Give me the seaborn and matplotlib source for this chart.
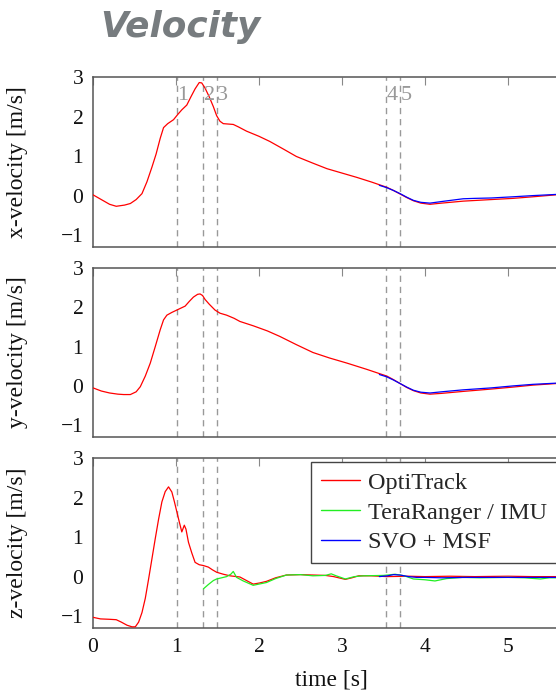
import matplotlib
matplotlib.use("Agg")
import matplotlib.pyplot as plt
import seaborn as sns
import pandas as pd

# ---------------- data ----------------
event_times = [1.01, 1.33, 1.49, 3.53, 3.70]
event_labels = ["1", "2", "3", "4", "5"]

# x-velocity
x_opti_t = [0, 0.1, 0.2, 0.28, 0.38, 0.45, 0.52, 0.59, 0.65, 0.71, 0.76, 0.81, 0.85, 0.90,
            0.97, 1.02, 1.07, 1.13, 1.18, 1.23, 1.28, 1.31, 1.35, 1.40, 1.45, 1.49, 1.53,
            1.57, 1.63, 1.69, 1.75, 1.85, 2.0, 2.13, 2.3, 2.45, 2.65, 2.82, 3.0, 3.18, 3.36,
            3.54, 3.62, 3.70, 3.78, 3.86, 3.95, 4.06, 4.2, 4.46, 4.8, 5.06, 5.3, 5.58]
x_opti_v = [0.02, -0.1, -0.22, -0.27, -0.24, -0.2, -0.1, 0.05, 0.35, 0.72, 1.05, 1.45, 1.72,
            1.82, 1.92, 2.05, 2.17, 2.29, 2.5, 2.7, 2.86, 2.85, 2.72, 2.5, 2.25, 2.02, 1.88,
            1.82, 1.81, 1.80, 1.74, 1.63, 1.5, 1.37, 1.17, 0.99, 0.82, 0.68, 0.57, 0.46, 0.34,
            0.21, 0.13, 0.04, -0.05, -0.13, -0.19, -0.22, -0.19, -0.14, -0.1, -0.07, -0.03, 0.02]
x_svo_t = [3.45, 3.54, 3.62, 3.70, 3.78, 3.86, 3.95, 4.06, 4.2, 4.46, 4.6, 4.8, 5.06, 5.3, 5.58]
x_svo_v = [0.26, 0.20, 0.13, 0.05, -0.04, -0.12, -0.17, -0.19, -0.15, -0.08, -0.07, -0.06,
           -0.03, 0.0, 0.03]

# y-velocity
y_opti_t = [0, 0.1, 0.2, 0.3, 0.37, 0.45, 0.52, 0.57, 0.63, 0.69, 0.75, 0.81, 0.85, 0.89,
            0.95, 1.01, 1.06, 1.11, 1.16, 1.21, 1.26, 1.29, 1.32, 1.35, 1.40, 1.47, 1.53,
            1.61, 1.70, 1.77, 1.93, 2.1, 2.25, 2.45, 2.65, 2.85, 3.06, 3.3, 3.54, 3.62, 3.70,
            3.78, 3.86, 3.95, 4.06, 4.2, 4.46, 4.8, 5.06, 5.3, 5.58]
y_opti_v = [-0.05, -0.13, -0.18, -0.21, -0.22, -0.22, -0.15, -0.02, 0.25, 0.58, 1.0, 1.43,
            1.68, 1.8, 1.87, 1.93, 1.98, 2.03, 2.15, 2.26, 2.33, 2.34, 2.3, 2.2, 2.08, 1.93,
            1.85, 1.8, 1.72, 1.64, 1.53, 1.4, 1.26, 1.05, 0.85, 0.71, 0.58, 0.42, 0.25, 0.16,
            0.06, -0.04, -0.12, -0.18, -0.21, -0.19, -0.14, -0.08, -0.03, 0.02, 0.06]
y_svo_t = [3.45, 3.54, 3.62, 3.70, 3.78, 3.86, 3.95, 4.06, 4.2, 4.46, 4.8, 5.06, 5.3, 5.58]
y_svo_v = [0.29, 0.23, 0.15, 0.06, -0.03, -0.11, -0.16, -0.18, -0.15, -0.1, -0.05, 0.0, 0.04, 0.07]

# z-velocity
z_opti_t = [0, 0.09, 0.2, 0.28, 0.34, 0.41, 0.47, 0.51, 0.55, 0.59, 0.63, 0.67, 0.71, 0.75,
            0.79, 0.83, 0.87, 0.91, 0.95, 0.98, 1.01, 1.04, 1.07, 1.10, 1.12, 1.15, 1.19,
            1.23, 1.28, 1.33, 1.39, 1.44, 1.49, 1.57, 1.65, 1.77, 1.85, 1.93, 2.01, 2.09,
            2.2, 2.33, 2.5, 2.65, 2.8, 2.9, 3.04, 3.12, 3.2, 3.35, 3.54, 3.8, 4.0, 4.3, 4.6,
            5.0, 5.3, 5.58]
z_opti_v = [-1.03, -1.07, -1.08, -1.09, -1.15, -1.23, -1.27, -1.27, -1.15, -0.91, -0.55,
            -0.06, 0.45, 0.96, 1.45, 1.89, 2.15, 2.27, 2.14, 1.9, 1.64, 1.38, 1.13, 1.3, 1.2,
            0.87, 0.6, 0.36, 0.3, 0.28, 0.24, 0.17, 0.11, 0.06, 0.02, -0.01, -0.1, -0.19,
            -0.16, -0.12, -0.03, 0.04, 0.05, 0.04, 0.03, 0.0, -0.07, -0.03, 0.02, 0.02, 0.0,
            0.01, 0.0, 0.01, 0.0, 0.01, 0.0, 0.0]
z_tera_t = [1.33, 1.39, 1.45, 1.49, 1.55, 1.61, 1.66, 1.69, 1.73, 1.81, 1.93, 2.09, 2.2,
            2.33, 2.5, 2.65, 2.8, 2.87, 2.93, 3.04, 3.15, 3.26, 3.5, 3.64, 3.75, 3.86, 4.0,
            4.12, 4.26, 4.45, 4.66, 5.0, 5.2, 5.39, 5.5, 5.58]
z_tera_v = [-0.31, -0.2, -0.1, -0.06, -0.03, 0.0, 0.06, 0.13, -0.02, -0.11, -0.22, -0.15,
            -0.05, 0.04, 0.05, 0.02, 0.03, 0.07, 0.02, -0.06, 0.0, 0.02, 0.03, 0.06, 0.02,
            -0.06, -0.08, -0.11, -0.05, -0.02, -0.03, -0.02, -0.03, -0.06, -0.03, -0.03]
z_svo_t = [3.45, 3.55, 3.62, 3.7, 3.8, 3.9, 4.0, 4.2, 4.5, 4.8, 5.1, 5.4, 5.58]
z_svo_v = [0.0, 0.02, 0.05, 0.04, 0.0, -0.02, -0.02, -0.03, -0.02, -0.02, -0.02, -0.02, -0.02]

series_names = ["OptiTrack", "TeraRanger / IMU", "SVO + MSF"]
series_colors = ["#ff0000", "#22ee22", "#0000ff"]
ylabels = ["x-velocity [m/s]", "y-velocity [m/s]", "z-velocity [m/s]"]
yticks = [-1, 0, 1, 2, 3]
xticks = [0, 1, 2, 3, 4, 5]

panels = [
    [(x_opti_t, x_opti_v, 0), (x_svo_t, x_svo_v, 2)],
    [(y_opti_t, y_opti_v, 0), (y_svo_t, y_svo_v, 2)],
    [(z_opti_t, z_opti_v, 0), (z_tera_t, z_tera_v, 1), (z_svo_t, z_svo_v, 2)],
]

# ---------------- style ----------------
sns.set_style("white")
serif = ["Liberation Serif", "DejaVu Serif"]
plt.rcParams["font.family"] = serif
plt.rcParams["axes.unicode_minus"] = True

W, H = 556, 694
fig = plt.figure(figsize=(W / 100, H / 100), dpi=100)

XMAX = 5.75
px_per_unit = 83.0
left_px = 93
width_px = XMAX * px_per_unit
axes_px = [(77, 247), (268, 437), (458, 628)]

spine_col = "#555555"
tick_col = "#888888"
dash_col = "#999999"

axes = []
for i, (top, bot) in enumerate(axes_px):
    ax = fig.add_axes([left_px / W, 1 - bot / H, width_px / W, (bot - top) / H])
    axes.append(ax)
    for t in event_times:
        ax.axvline(t, color=dash_col, lw=1.0, ls=(0, (4.5, 3.5)), zorder=1)
    for (tt, vv, k) in panels[i]:
        df = pd.DataFrame({"t": tt, "v": vv})
        sns.lineplot(data=df, x="t", y="v", color=series_colors[k], lw=0.9,
                     estimator=None, sort=False, ax=ax, label=series_names[k] if i == 2 else None,
                     zorder=3 if k == 0 else 4)
    ax.set_xlim(0, XMAX)
    ax.set_ylim(-1.3, 3.0)
    ax.set_yticks(yticks)
    ax.set_xticks(xticks)
    ax.tick_params(direction="in", length=6, width=0.8, color=tick_col,
                   top=True, right=False, labelsize=15.5, pad=7, labelcolor="#111111")
    for s in ax.spines.values():
        s.set_color(spine_col)
        s.set_linewidth(1.1)
    ax.set_ylabel(ylabels[i], fontsize=17, color="#111111")
    ax.yaxis.set_label_coords((28 - left_px) / width_px, 0.5)
    if i < 2:
        ax.set_xticklabels([])
        ax.set_xlabel("")
    else:
        ax.set_xlabel("time [s]", fontsize=17, color="#111111", labelpad=9)
    if ax.get_legend() is not None:
        ax.get_legend().remove()

# event labels on the top panel
for t, lab in zip(event_times, event_labels):
    axes[0].annotate(lab, xy=(t, 2.43), xytext=(0.5, 0), textcoords="offset points",
                     ha="left", va="baseline", fontsize=16, color="#999999",
                     family=serif)

# legend on the bottom panel
handles, labels = axes[2].get_legend_handles_labels()
leg = fig.legend(handles, labels, loc="upper left", mode="expand",
                 bbox_to_anchor=(311 / W, 0, 0.5, 1 - 462 / H),
                 bbox_transform=fig.transFigure, borderaxespad=0,
                 fontsize=17.5, frameon=True, fancybox=False, framealpha=1,
                 edgecolor="#444444", handlelength=1.6, handletextpad=0.35,
                 labelspacing=0.32, borderpad=0.4)
leg.get_frame().set_linewidth(1.0)
for line in leg.get_lines():
    line.set_linewidth(1.0)

# title
fig.text(100 / W, 1 - 37 / H, "Velocity", fontsize=25.8, fontweight="bold",
         fontstyle="italic", color="#777c7f", family="DejaVu Sans",
         ha="left", va="baseline")

fig.savefig("out.png", dpi=100)
